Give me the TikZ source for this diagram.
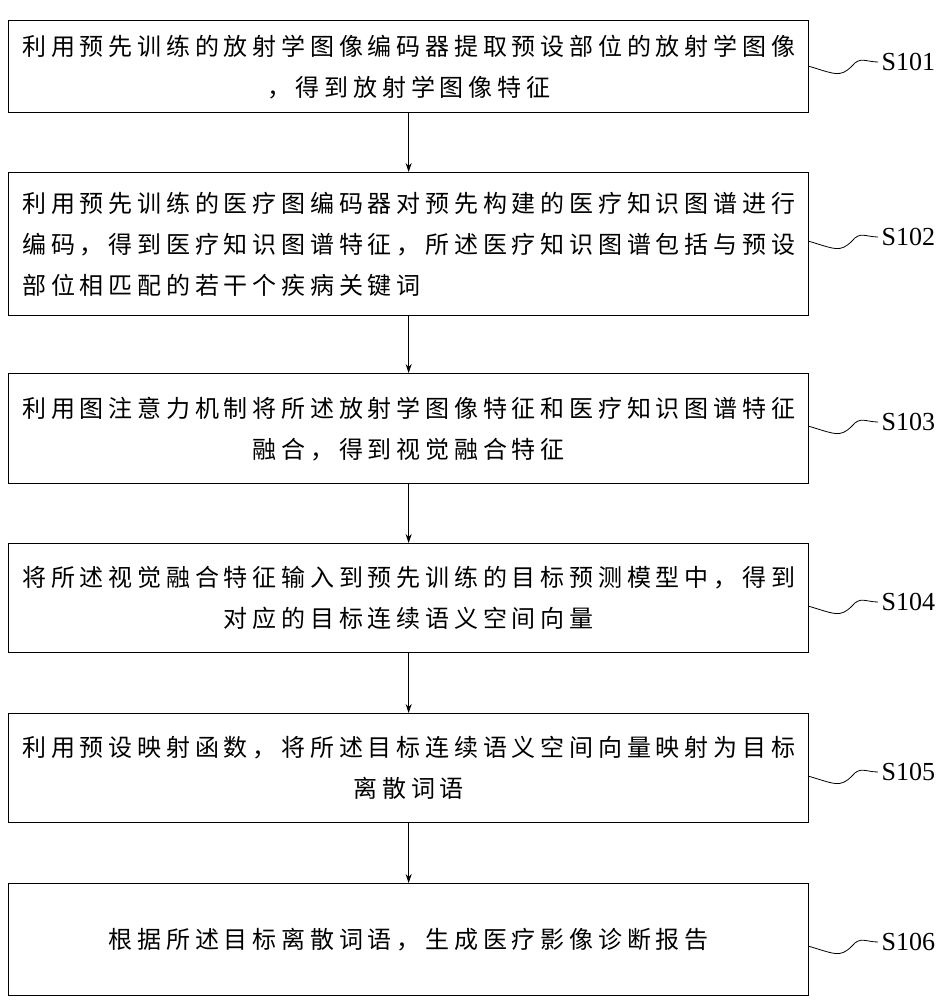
\documentclass[tikz,border=0pt]{standalone}
\usepackage{fontspec}
\setmainfont{Liberation Serif}
\newfontfamily\cjk[LetterSpace=20]{Noto Sans CJK SC}
\usetikzlibrary{arrows.meta}
\begin{document}
\begin{tikzpicture}[x=1pt,y=-1pt,
  stepbox/.style={draw,line width=1.3pt,minimum width=800pt,anchor=north west,inner sep=0pt,align=center,font=\cjk\fontsize{24}{41}\selectfont},
  lab/.style={anchor=west,font=\fontsize{26}{30}\selectfont},
  arr/.style={-{Stealth[length=9pt,width=6pt]},line width=0.7pt}]
\useasboundingbox (0,0) rectangle (946,1000);
\node[stepbox,minimum height=92pt] (b1) at (8,20) {利用预先训练的放射学图像编码器提取预设部位的放射学图像\\，得到放射学图像特征};
\node[stepbox,minimum height=143pt,align=left] (b2) at (8,172) {利用预先训练的医疗图编码器对预先构建的医疗知识图谱进行\\编码，得到医疗知识图谱特征，所述医疗知识图谱包括与预设\\部位相匹配的若干个疾病关键词};
\node[stepbox,minimum height=110pt] (b3) at (8,373) {利用图注意力机制将所述放射学图像特征和医疗知识图谱特征\\融合，得到视觉融合特征};
\node[stepbox,minimum height=109pt] (b4) at (8,543) {将所述视觉融合特征输入到预先训练的目标预测模型中，得到\\对应的目标连续语义空间向量};
\node[stepbox,minimum height=109pt] (b5) at (8,713) {利用预设映射函数，将所述目标连续语义空间向量映射为目标\\离散词语};
\node[stepbox,minimum height=112pt] (b6) at (8,883) {根据所述目标离散词语，生成医疗影像诊断报告};
\foreach \a/\b in {b1/b2,b2/b3,b3/b4,b4/b5,b5/b6} \draw[arr] (\a.south) -- (\b.north);
\foreach \i/\y in {1/62,2/237,3/422,4/602,5/772,6/942}{
  \node[lab] (l\i) at (878,\y) {S10\i};
  \coordinate (c\i) at (808,\y+4);
  \draw[line width=0.8pt] (c\i) .. controls (835,\y+12) and (840,\y+16) .. (852,\y+4) .. controls (860,\y-6) and (866,\y) .. (l\i.west);
}
\end{tikzpicture}
\end{document}
